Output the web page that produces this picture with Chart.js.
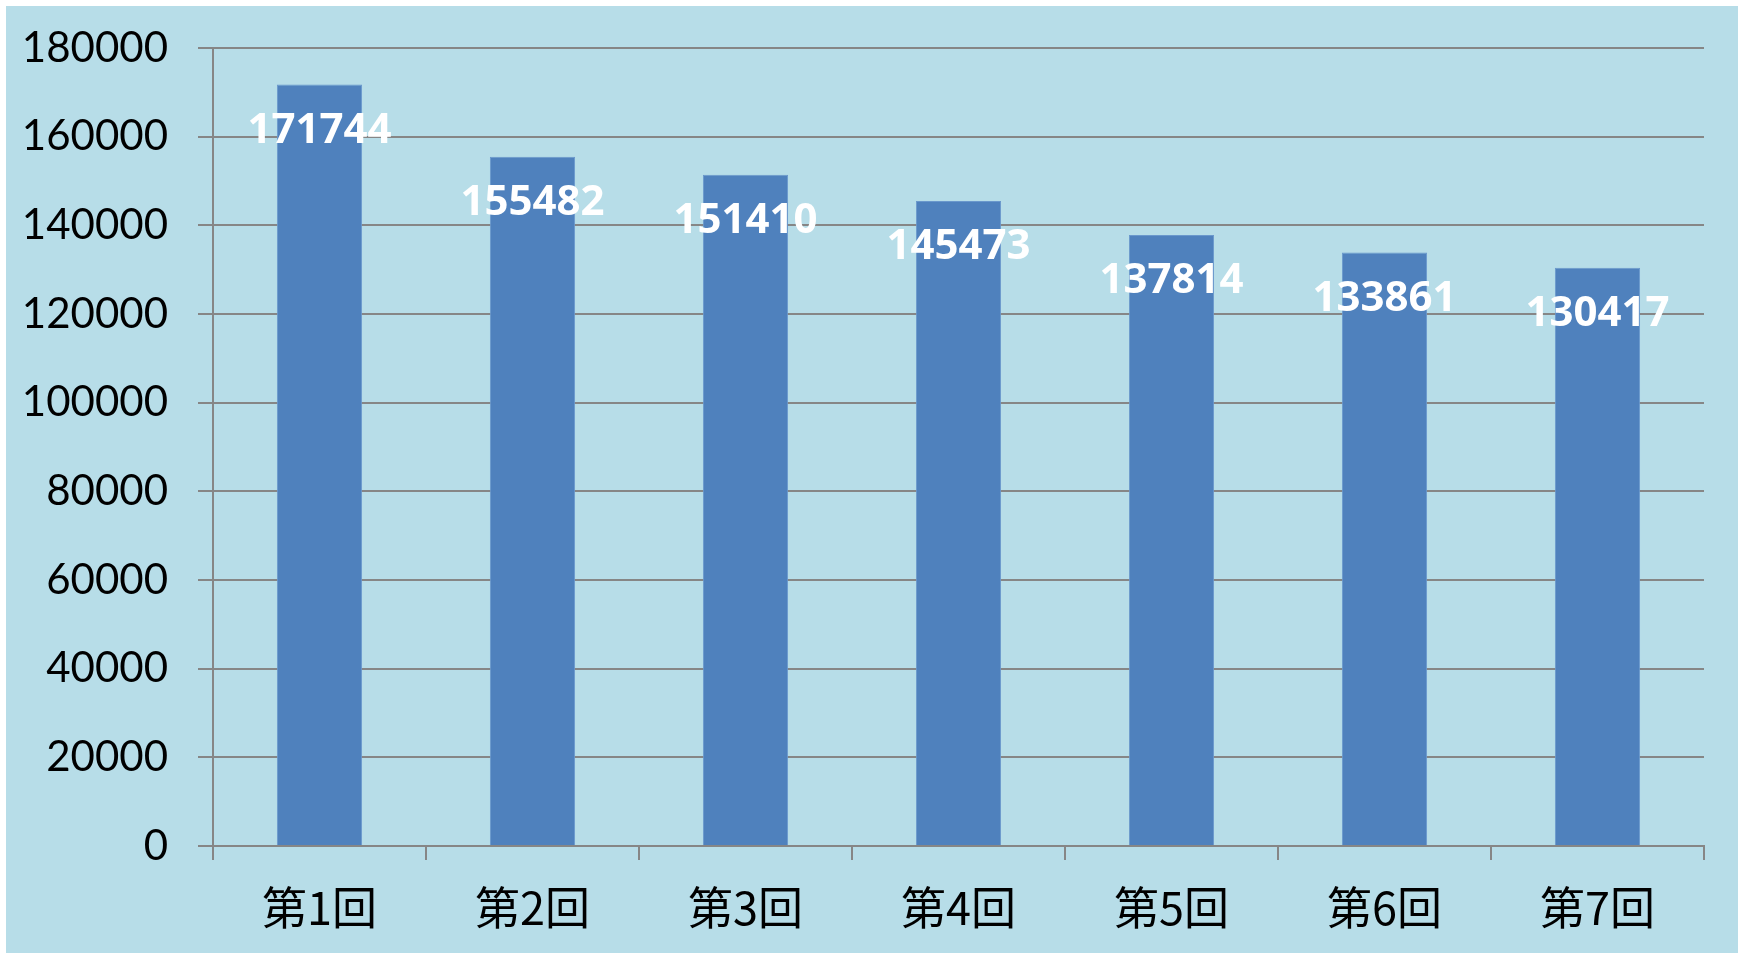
<!DOCTYPE html>
<html>
<head>
<meta charset="utf-8">
<script src="https://cdn.jsdelivr.net/npm/chart.js@4/dist/chart.umd.min.js"></script>
<style>
  html, body { margin: 0; padding: 0; background: #ffffff; }
  #wrap { position: absolute; left: 6px; top: 6px; width: 1732px; height: 947px; background: #B7DDE8; }
</style>
</head>
<body>
<div id="wrap"><canvas id="chart" width="1732" height="947"></canvas></div>
<script>
const categories = ["第1回", "第2回", "第3回", "第4回", "第5回", "第6回", "第7回"];
const values = [171744, 155482, 151410, 145473, 137814, 133861, 130417];
const yMax = 180000;
const yStep = 20000;

const gridColor = "#868686";
const barColor = "#4F81BD";

// white value labels drawn inside the top of each bar
const valueLabels = {
  id: "valueLabels",
  afterDatasetsDraw(chart) {
    const ctx = chart.ctx;
    const meta = chart.getDatasetMeta(0);
    ctx.save();
    ctx.font = "bold 42px 'Open Sans', sans-serif";
    ctx.fillStyle = "#ffffff";
    ctx.textAlign = "center";
    ctx.textBaseline = "middle";
    meta.data.forEach((bar, i) => {
      ctx.fillText(String(values[i]), bar.x, bar.y + 46);
    });
    ctx.restore();
  }
};

const ctx = document.getElementById("chart").getContext("2d");
new Chart(ctx, {
  type: "bar",
  data: {
    labels: categories,
    datasets: [{
      data: values,
      backgroundColor: barColor,
      borderColor: "#6a98cc",
      borderWidth: 1,
      barPercentage: 0.4,
      categoryPercentage: 1.0
    }]
  },
  options: {
    responsive: false,
    animation: false,
    layout: { padding: { top: 42, right: 34, left: 0, bottom: 0 } },
    plugins: {
      legend: { display: false },
      tooltip: { enabled: false }
    },
    scales: {
      x: {
        grid: {
          drawOnChartArea: false,
          drawTicks: true,
          tickLength: 14,
          color: gridColor,
          lineWidth: 2
        },
        border: { color: gridColor, width: 2 },
        ticks: {
          color: "#000000",
          font: { family: "'Noto Sans CJK JP', sans-serif", size: 45 },
          padding: 21
        },
        afterFit(scale) {
          scale.height = 107;
          scale.paddingLeft = 0;
          scale.paddingRight = 0;
        }
      },
      y: {
        min: 0,
        max: yMax,
        grid: {
          color: gridColor,
          lineWidth: 2,
          tickLength: 15
        },
        border: { color: gridColor, width: 2 },
        ticks: {
          stepSize: yStep,
          color: "#000000",
          font: { family: "Lato, sans-serif", size: 42 },
          padding: 30,
          callback: (v) => String(v)
        },
        afterFit(scale) {
          scale.width = 207;
          scale.paddingTop = 0;
          scale.paddingBottom = 0;
        }
      }
    }
  },
  plugins: [valueLabels]
});
</script>
</body>
</html>
